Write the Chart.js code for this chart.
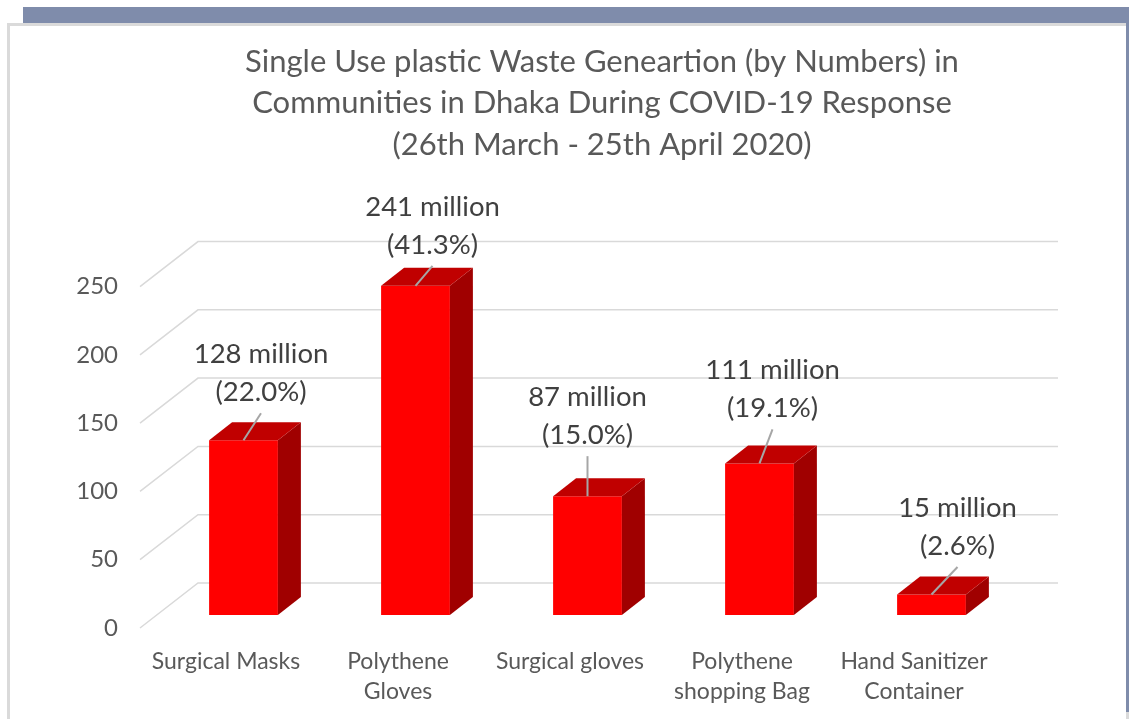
<!DOCTYPE html>
<html>
<head>
<meta charset="utf-8">
<script src="https://cdn.jsdelivr.net/npm/chart.js@4.4.1/dist/chart.umd.min.js"></script>
<style>
    body { margin: 0; background: #ffffff; }
    #band { position: absolute; left: 23px; top: 7px; width: 1106px; height: 16px; background: #7f8cab; }
    #panel { position: absolute; left: 7px; top: 23px; width: 1116px; height: 700px; border: 3px solid #dadada; border-bottom: none; background: #ffffff; }
    #edge { position: absolute; left: 1126px; top: 23px; width: 3px; height: 689px; background: #7f8cab; }
    #wrap { position: absolute; left: 0; top: 0; width: 1129px; height: 719px; }
</style>
</head>
<body>
<div id="band"></div>
<div id="panel"></div>
<div id="edge"></div>
<div id="wrap"><canvas id="wasteChart" width="1129" height="719"></canvas></div>
<script>
// Chart data
const categories = [
    ['Surgical Masks'],
    ['Polythene', 'Gloves'],
    ['Surgical gloves'],
    ['Polythene', 'shopping Bag'],
    ['Hand Sanitizer', 'Container']
];
const wasteMillions = [128, 241, 87, 111, 15];
const wasteShares = ['22.0', '41.3', '15.0', '19.1', '2.6'];
const yTicks = [0, 50, 100, 150, 200, 250];

// 3D look: offsets of front plane, back wall and bar depth from the bar face plane
const FRONT = { dx: -17.5, dy: 13 };
const BACK = { dx: 40.5, dy: -32 };
const DEPTH = { dx: 23, dy: -18 };

// label nudges per bar: [dx from bar centre, first line dy from bar top]
const labelNudge = [[17.5, -86], [17, -79], [0, -99], [13, -93], [26, -86.5]];

Chart.defaults.font.family = 'Lato, "Open Sans", sans-serif';

const depthPlugin = {
    id: 'depth3d',
    beforeDatasetsDraw(chart) {
        const ctx = chart.ctx;
        const y = chart.scales.y;
        const area = chart.chartArea;
        ctx.save();
        ctx.strokeStyle = '#d9d9d9';
        ctx.lineWidth = 1.5;
        yTicks.forEach(v => {
            const py = y.getPixelForValue(v);
            ctx.beginPath();
            ctx.moveTo(area.left + FRONT.dx, py + FRONT.dy);
            ctx.lineTo(area.left + BACK.dx, py + BACK.dy);
            ctx.lineTo(area.right + BACK.dx, py + BACK.dy);
            ctx.stroke();
        });
        ctx.restore();
    },
    afterDatasetsDraw(chart) {
        const ctx = chart.ctx;
        const bars = chart.getDatasetMeta(0).data;
        ctx.save();
        bars.forEach((bar, i) => {
            const left = bar.x - bar.width / 2;
            const right = bar.x + bar.width / 2;
            const top = bar.y;
            const base = bar.base;

            // side face
            ctx.fillStyle = '#a00000';
            ctx.beginPath();
            ctx.moveTo(right, top);
            ctx.lineTo(right + DEPTH.dx, top + DEPTH.dy);
            ctx.lineTo(right + DEPTH.dx, base + DEPTH.dy);
            ctx.lineTo(right, base);
            ctx.closePath();
            ctx.fill();

            // top face
            ctx.fillStyle = '#c00000';
            ctx.beginPath();
            ctx.moveTo(left, top);
            ctx.lineTo(right, top);
            ctx.lineTo(right + DEPTH.dx, top + DEPTH.dy);
            ctx.lineTo(left + DEPTH.dx, top + DEPTH.dy);
            ctx.closePath();
            ctx.fill();

            // label + leader line
            const [ldx, ldy] = labelNudge[i];
            const lx = bar.x + ldx;
            const ly = top + ldy;
            ctx.strokeStyle = '#a6a6a6';
            ctx.lineWidth = 2;
            ctx.beginPath();
            ctx.moveTo(bar.x, top);
            ctx.lineTo(lx, ly + 59);
            ctx.stroke();

            ctx.fillStyle = '#404040';
            ctx.font = '27.5px Lato, "Open Sans", sans-serif';
            ctx.textAlign = 'center';
            ctx.textBaseline = 'middle';
            ctx.fillText(wasteMillions[i] + ' million', lx, ly);
            ctx.fillText('(' + wasteShares[i] + '%)', lx, ly + 38);
        });
        ctx.restore();
    }
};

new Chart(document.getElementById('wasteChart'), {
    type: 'bar',
    data: {
        labels: categories,
        datasets: [{
            data: wasteMillions,
            backgroundColor: '#ff0000',
            borderWidth: 0,
            barPercentage: 0.4,
            categoryPercentage: 1
        }]
    },
    options: {
        responsive: false,
        animation: false,
        layout: { padding: { left: 75, right: 0, top: 0, bottom: 0 } },
        plugins: {
            legend: { display: false },
            tooltip: { enabled: false },
            title: {
                display: true,
                text: [
                    'Single Use plastic Waste Geneartion (by Numbers) in',
                    'Communities in Dhaka During COVID-19 Response',
                    '(26th March - 25th April 2020)'
                ],
                color: '#595959',
                font: { size: 31, weight: 'normal', lineHeight: 1.337 },
                padding: { top: 41, bottom: 108.2 }
            }
        },
        scales: {
            x: {
                grid: { display: false, drawTicks: false },
                border: { display: false },
                ticks: {
                    color: '#595959',
                    font: { size: 23, lineHeight: 1.3 },
                    padding: 32,
                    labelOffset: FRONT.dx,
                    maxRotation: 0
                },
                afterFit(scale) { scale.height = 104; }
            },
            y: {
                min: 0,
                max: 250,
                grid: { display: false, drawTicks: false },
                border: { display: false },
                ticks: {
                    color: '#595959',
                    font: { size: 24 },
                    padding: 39.5,
                    labelOffset: FRONT.dy
                },
                afterBuildTicks(scale) { scale.ticks = yTicks.map(v => ({ value: v })); },
                afterFit(scale) { scale.width = 82.5; }
            },
            yRight: {
                position: 'right',
                display: true,
                grid: { display: false, drawTicks: false },
                border: { display: false },
                ticks: { display: false },
                afterFit(scale) { scale.width = 111.5; }
            }
        }
    },
    plugins: [depthPlugin]
});
</script>
</body>
</html>
